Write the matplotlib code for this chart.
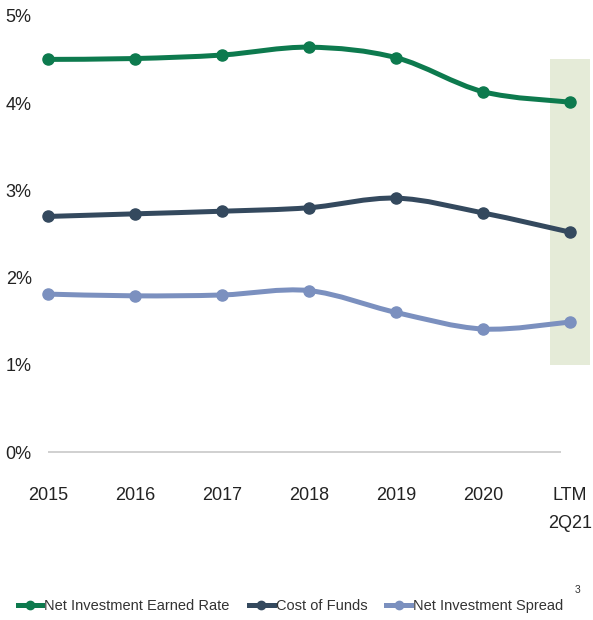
import matplotlib
matplotlib.use("Agg")
import matplotlib.pyplot as plt
from matplotlib.path import Path
from matplotlib.patches import PathPatch, Rectangle
from matplotlib.lines import Line2D
import numpy as np

categories = ["2015", "2016", "2017", "2018", "2019", "2020", "LTM\n2Q21"]
earned_rate = [4.50, 4.51, 4.55, 4.64, 4.52, 4.13, 4.01]
cost_of_funds = [2.70, 2.73, 2.76, 2.80, 2.91, 2.74, 2.52]
net_spread = [1.81, 1.79, 1.80, 1.85, 1.60, 1.41, 1.49]
series_names = ["Net Investment Earned Rate", "Cost of Funds", "Net Investment Spread"]
colors = ["#0d7a4e", "#34495e", "#7b90bf"]
y_ticks = [0, 1, 2, 3, 4, 5]
highlight_range = (1.0, 4.5)

plt.rcParams["font.family"] = ["Liberation Sans", "DejaVu Sans"]

fig = plt.figure(figsize=(5.93, 6.2), dpi=100)
ax = fig.add_axes([40/593, 150/620, 553/593, 465/620])
x = np.arange(len(categories))
ax.set_xlim(-8/87, -8/87 + 553/87)
ax.set_ylim(-0.206, -0.206 + 465/87.25)

# highlight box for LTM
ax.add_patch(Rectangle((x[-1] - 0.23, highlight_range[0]), 0.46,
                       highlight_range[1] - highlight_range[0],
                       facecolor="#e5ebd8", edgecolor="none", zorder=0))

def smooth_path(xs, ys):
    pts = np.column_stack([xs, ys]).astype(float)
    n = len(pts)
    verts = [pts[0]]
    codes = [Path.MOVETO]
    for i in range(n - 1):
        p0 = pts[i - 1] if i > 0 else pts[i]
        p1 = pts[i]
        p2 = pts[i + 1]
        p3 = pts[i + 2] if i + 2 < n else pts[i + 1]
        c1 = p1 + (p2 - p0) / 6.0
        c2 = p2 - (p3 - p1) / 6.0
        verts += [c1, c2, p2]
        codes += [Path.CURVE4] * 3
    return Path(verts, codes)

for vals, col in zip([earned_rate, cost_of_funds, net_spread], colors):
    ax.add_patch(PathPatch(smooth_path(x, vals), facecolor="none", edgecolor=col,
                           lw=3.6, capstyle="round", zorder=2))
    ax.plot(x, vals, linestyle="none", marker="o", ms=8, color=col, zorder=3)

ax.hlines(0, 0, 5.9, color="#c8c8c8", lw=1.2, zorder=1)

for s in ax.spines.values():
    s.set_visible(False)
ax.set_yticks(y_ticks)
ax.set_yticklabels([f"{t}%" for t in y_ticks])
ax.set_xticks(x)
ax.set_xticklabels(categories, linespacing=1.9, va="top")
ax.tick_params(axis="both", length=0, labelsize=13, colors="#222222")
ax.tick_params(axis="x", pad=12)
ax.tick_params(axis="y", pad=6)

handles = [Line2D([], [], color=c, lw=3.6, marker="o", ms=6) for c in colors]
fig.legend(handles, series_names, loc="center", bbox_to_anchor=(0.49, 1 - 606/620),
           ncol=3, frameon=False, fontsize=10.5, handlelength=1.7, handletextpad=0.15,
           columnspacing=1.3, labelcolor="#333333")
fig.text(578/593, 1 - 590/620, "3", fontsize=7.5, ha="center", va="center", color="#333333")

fig.savefig("out.png", dpi=100)
